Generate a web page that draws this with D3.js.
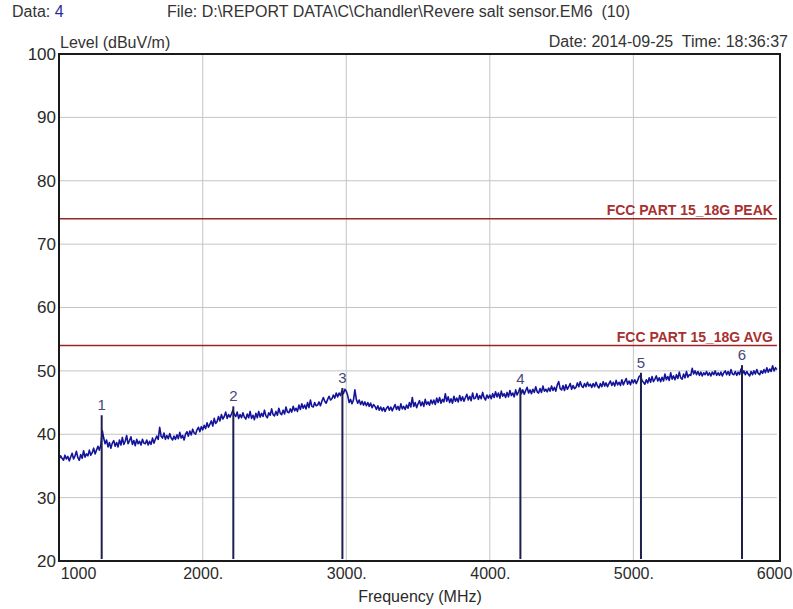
<!DOCTYPE html>
<html>
<head>
<meta charset="utf-8">
<script src="https://cdn.jsdelivr.net/npm/d3@7"></script>
<style>
  body { margin: 0; background: #fff; }
  text { font-family: "Liberation Sans", Arial, sans-serif; }
</style>
</head>
<body>
<svg id="chart" width="793" height="609"></svg>
<script>
// Header info
const DATA_NO = "4";
const FILE_TEXT = "File: D:\\REPORT DATA\\C\\Chandler\\Revere salt sensor.EM6  (10)";
const DATE_TEXT = "Date: 2014-09-25  Time: 18:36:37";

// Axes
const xTicks = [1000, 2000, 3000, 4000, 5000, 6000];
const xTickLabels = ["1000", "2000.", "3000.", "4000.", "5000.", "6000"];
const yTicks = [20, 30, 40, 50, 60, 70, 80, 90, 100];

// Limit lines (dBuV/m)
const limitNames = ["FCC PART 15_18G PEAK", "FCC PART 15_18G AVG"];
const limitLevels = [74, 54];

// Markers
const markerLabels = ["1", "2", "3", "4", "5", "6"];
const markerFreqs = [1296, 2213, 2973, 4213, 5053, 5757];
const markerLevels = [43.0, 44.4, 47.3, 47.1, 49.7, 50.9];

// Sweep: 1000 MHz start, 10 MHz per point
const SWEEP_START = 1000;
const SWEEP_STEP = 10;
const traceLevels = [
  36.1, 36.6, 36.2, 35.9, 36.7, 36.1, 36.5, 35.8, 36.4, 37.0, 36.1, 36.6, 37.3, 36.3, 35.9, 36.8, 36.2, 37.4, 36.4, 36.9,
  36.6, 37.5, 36.7, 37.1, 37.8, 36.9, 37.5, 38.1, 37.5, 38.3, 40.6, 39.4, 38.5, 39.1, 38.0, 38.7, 37.8, 38.6, 39.0, 38.1,
  38.7, 38.0, 39.1, 38.3, 39.5, 38.4, 38.9, 39.8, 38.5, 39.0, 39.6, 38.4, 39.0, 38.2, 39.2, 38.5, 38.9, 38.3, 39.2, 38.6,
  38.5, 39.1, 38.3, 38.9, 38.4, 39.4, 38.6, 39.2, 39.7, 39.2, 41.1, 39.7, 39.4, 40.2, 39.2, 39.8, 39.3, 40.1, 39.4, 39.1,
  39.7, 39.2, 39.9, 39.3, 40.3, 39.4, 39.8, 39.1, 40.0, 40.4, 39.7, 40.5, 39.9, 40.8, 40.2, 40.0, 40.7, 41.1, 40.4, 41.2,
  40.7, 41.4, 40.9, 41.8, 41.1, 41.6, 42.1, 41.3, 42.5, 41.7, 42.0, 42.8, 42.1, 43.1, 42.4, 42.8, 43.5, 42.5, 43.1, 42.7,
  43.2, 43.8, 43.1, 42.8, 43.5, 42.5, 43.1, 42.6, 43.4, 42.7, 42.4, 43.2, 42.6, 43.6, 42.5, 43.0, 42.3, 43.3, 42.6, 43.6,
  42.7, 43.3, 42.8, 43.8, 42.9, 42.6, 43.4, 43.0, 44.0, 43.1, 42.9, 43.6, 43.0, 44.1, 43.3, 43.1, 43.8, 43.2, 44.3, 43.5,
  43.4, 44.0, 43.5, 44.4, 43.7, 44.1, 43.6, 44.6, 43.9, 44.8, 44.1, 44.6, 44.0, 45.0, 44.2, 45.4, 44.4, 44.3, 45.0, 44.5,
  44.6, 45.1, 44.5, 45.2, 45.8, 45.2, 44.9, 45.5, 46.0, 45.4, 45.6, 46.2, 45.7, 46.5, 45.9, 46.5, 46.1, 46.9, 46.4, 47.1,
  46.8, 46.1, 45.0, 45.5, 44.8, 45.4, 47.0, 45.5, 44.9, 45.4, 44.7, 45.2, 44.6, 45.1, 44.5, 45.0, 44.4, 44.9, 44.2, 44.7,
  44.4, 43.9, 44.5, 43.8, 44.3, 43.7, 44.2, 43.6, 44.1, 44.4, 43.8, 44.3, 43.7, 44.2, 44.7, 43.9, 44.4, 43.8, 44.8, 44.0,
  44.4, 43.9, 44.6, 44.1, 45.0, 44.3, 45.8, 44.4, 45.0, 44.2, 44.8, 45.3, 44.5, 45.1, 44.4, 45.5, 44.7, 45.1, 44.6, 45.4,
  44.8, 45.4, 44.7, 45.7, 45.0, 45.8, 44.9, 45.5, 45.1, 46.4, 45.2, 45.9, 45.0, 45.6, 44.9, 46.0, 45.2, 45.7, 45.1, 46.1,
  45.3, 45.9, 45.2, 45.8, 46.3, 45.4, 46.0, 45.3, 46.5, 45.6, 45.7, 46.4, 45.5, 46.1, 45.6, 46.6, 45.8, 45.4, 46.2, 45.7,
  46.2, 45.6, 46.4, 45.8, 46.7, 45.9, 46.5, 45.7, 46.8, 46.0, 46.4, 45.8, 46.6, 45.9, 46.9, 46.1, 46.5, 45.9, 47.0, 46.2,
  46.7, 47.3, 46.4, 47.0, 46.3, 46.9, 47.4, 46.5, 47.0, 46.4, 47.1, 46.6, 47.5, 46.7, 46.5, 47.2, 46.6, 47.6, 46.8, 47.1,
  46.7, 47.3, 46.8, 47.6, 46.9, 47.4, 46.8, 47.8, 48.3, 47.2, 47.0, 47.7, 46.9, 47.8, 47.1, 47.5, 48.0, 47.1, 47.7, 47.2,
  47.4, 48.1, 47.5, 48.3, 47.6, 47.4, 48.0, 47.5, 48.2, 47.6, 47.9, 47.4, 48.0, 47.5, 48.2, 47.6, 47.3, 48.0, 47.5, 48.3,
  47.6, 48.1, 47.5, 48.0, 48.4, 47.7, 48.2, 47.6, 48.5, 47.8, 48.2, 47.7, 48.6, 47.8, 48.3, 48.8, 47.9, 48.4, 47.8, 48.6,
  48.1, 48.6, 48.0, 48.5, 49.1, 49.3, 48.5, 48.2, 47.9, 48.6, 48.1, 48.9, 48.2, 49.1, 48.3, 48.7, 49.2, 48.4, 48.9, 48.3,
  49.0, 48.4, 49.5, 48.6, 49.1, 48.5, 49.7, 48.7, 49.2, 48.6, 49.4, 48.8, 49.8, 48.9, 48.7, 49.5, 48.9, 49.9, 49.0, 49.4,
  49.3, 50.4, 49.5, 50.0, 49.4, 49.9, 49.3, 49.8, 49.2, 49.7, 49.4, 49.9, 49.3, 49.7, 49.2, 49.8, 49.4, 50.0, 49.3, 49.7,
  49.3, 49.8, 49.2, 49.7, 50.0, 49.4, 49.9, 49.3, 50.2, 49.5, 49.4, 49.9, 49.3, 49.8, 49.4, 50.3, 49.5, 50.0, 49.4, 49.9,
  49.5, 49.2, 49.9, 49.4, 50.0, 49.5, 50.2, 49.6, 49.4, 50.0, 49.6, 50.2, 49.7, 50.5, 49.8, 50.3, 49.9, 50.8, 50.0, 50.5,
  50.2
];

//==========================================
// Layout
//==========================================
const plot = { left: 59, top: 54, right: 780, bottom: 561 };
const x = d3.scaleLinear().domain([1000, 6000]).range([59.2, 776.9]);
const y = d3.scaleLinear().domain([20, 100]).range([plot.bottom, plot.top]);

const svg = d3.select("#chart");
svg.append("rect").attr("width", 793).attr("height", 609).attr("fill", "#fff");

// Header texts
const head = svg.append("text").attr("x", 12).attr("y", 17)
  .style("font-size", "16px").attr("fill", "#333");
head.append("tspan").text("Data: ");
head.append("tspan").attr("fill", "#2b2b9a").text(DATA_NO);

svg.append("text").attr("x", 167).attr("y", 17)
  .style("font-size", "16px").style("white-space", "pre").attr("fill", "#333")
  .text(FILE_TEXT);

svg.append("text").attr("x", 60).attr("y", 48)
  .style("font-size", "16px").attr("fill", "#333")
  .text("Level (dBuV/m)");

svg.append("text").attr("x", 788).attr("y", 47).attr("text-anchor", "end")
  .style("font-size", "16px").style("white-space", "pre").attr("fill", "#333")
  .text(DATE_TEXT);

// Grid
svg.append("g")
  .selectAll("line")
  .data(xTicks.slice(1, -1))
  .join("line")
  .attr("x1", d => x(d)).attr("x2", d => x(d))
  .attr("y1", plot.top).attr("y2", plot.bottom)
  .attr("stroke", "#c4c4c4").attr("stroke-width", 1);

svg.append("g")
  .selectAll("line")
  .data(yTicks.slice(1, -1))
  .join("line")
  .attr("x1", plot.left).attr("x2", x(6000))
  .attr("y1", d => y(d)).attr("y2", d => y(d))
  .attr("stroke", "#c4c4c4").attr("stroke-width", 1);

// Y axis labels
const yAxis = svg.append("g")
  .attr("transform", `translate(${plot.left},0)`)
  .call(d3.axisLeft(y).tickValues(yTicks).tickSize(0).tickPadding(3));
yAxis.select(".domain").remove();
yAxis.selectAll("text")
  .style("font-size", "17px").style("font-family", "'Liberation Sans', Arial, sans-serif")
  .attr("fill", "#2a2a2a");

// X axis labels
const xAxis = svg.append("g")
  .attr("transform", `translate(0,${plot.bottom})`)
  .call(d3.axisBottom(x).tickValues(xTicks).tickFormat((d, i) => xTickLabels[i]).tickSize(0).tickPadding(7));
xAxis.select(".domain").remove();
xAxis.selectAll("text")
  .style("font-size", "16px").style("font-family", "'Liberation Sans', Arial, sans-serif")
  .attr("fill", "#2a2a2a")
  .attr("text-anchor", (d, i) => i === 0 ? "start" : (i === xTicks.length - 1 ? "end" : "middle"))
  .attr("dx", (d, i) => i === 0 ? 1 : (i === xTicks.length - 1 ? 15 : 0));

svg.append("text").attr("x", 420).attr("y", 602).attr("text-anchor", "middle")
  .style("font-size", "16px").attr("fill", "#2a2a2a")
  .text("Frequency (MHz)");

// Limit lines
svg.append("g")
  .selectAll("line")
  .data(limitLevels)
  .join("line")
  .attr("x1", plot.left).attr("x2", x(6000))
  .attr("y1", d => y(d)).attr("y2", d => y(d))
  .attr("stroke", "#9c2424").attr("stroke-width", 1.4);

svg.append("g")
  .selectAll("text")
  .data(limitLevels)
  .join("text")
  .attr("x", x(6000) - 4).attr("y", d => y(d) - 4)
  .attr("text-anchor", "end")
  .style("font-size", "14px").style("font-weight", "bold")
  .attr("fill", "#a83030")
  .text((d, i) => limitNames[i]);

// Trace
const line = d3.line()
  .x((d, i) => x(SWEEP_START + i * SWEEP_STEP))
  .y(d => y(d));

svg.append("path")
  .datum(traceLevels)
  .attr("d", line)
  .attr("fill", "none")
  .attr("stroke", "#14149a")
  .attr("stroke-width", 1.6)
  .attr("stroke-linejoin", "round");

// Markers
svg.append("g")
  .selectAll("line")
  .data(markerFreqs)
  .join("line")
  .attr("x1", d => x(d)).attr("x2", d => x(d))
  .attr("y1", y(20) - 2)
  .attr("y2", (d, i) => y(markerLevels[i]))
  .attr("stroke", "#1e1e50").attr("stroke-width", 2);

svg.append("g")
  .selectAll("text")
  .data(markerFreqs)
  .join("text")
  .attr("x", d => x(d))
  .attr("y", (d, i) => y(markerLevels[i]) - 5)
  .attr("text-anchor", "middle")
  .style("font-size", "15px")
  .attr("fill", "#48487a")
  .text((d, i) => markerLabels[i]);

// Frame
svg.append("rect")
  .attr("x", plot.left).attr("y", plot.top)
  .attr("width", plot.right - plot.left).attr("height", plot.bottom - plot.top)
  .attr("fill", "none").attr("stroke", "#1a1a1a").attr("stroke-width", 2);
</script>
</body>
</html>
